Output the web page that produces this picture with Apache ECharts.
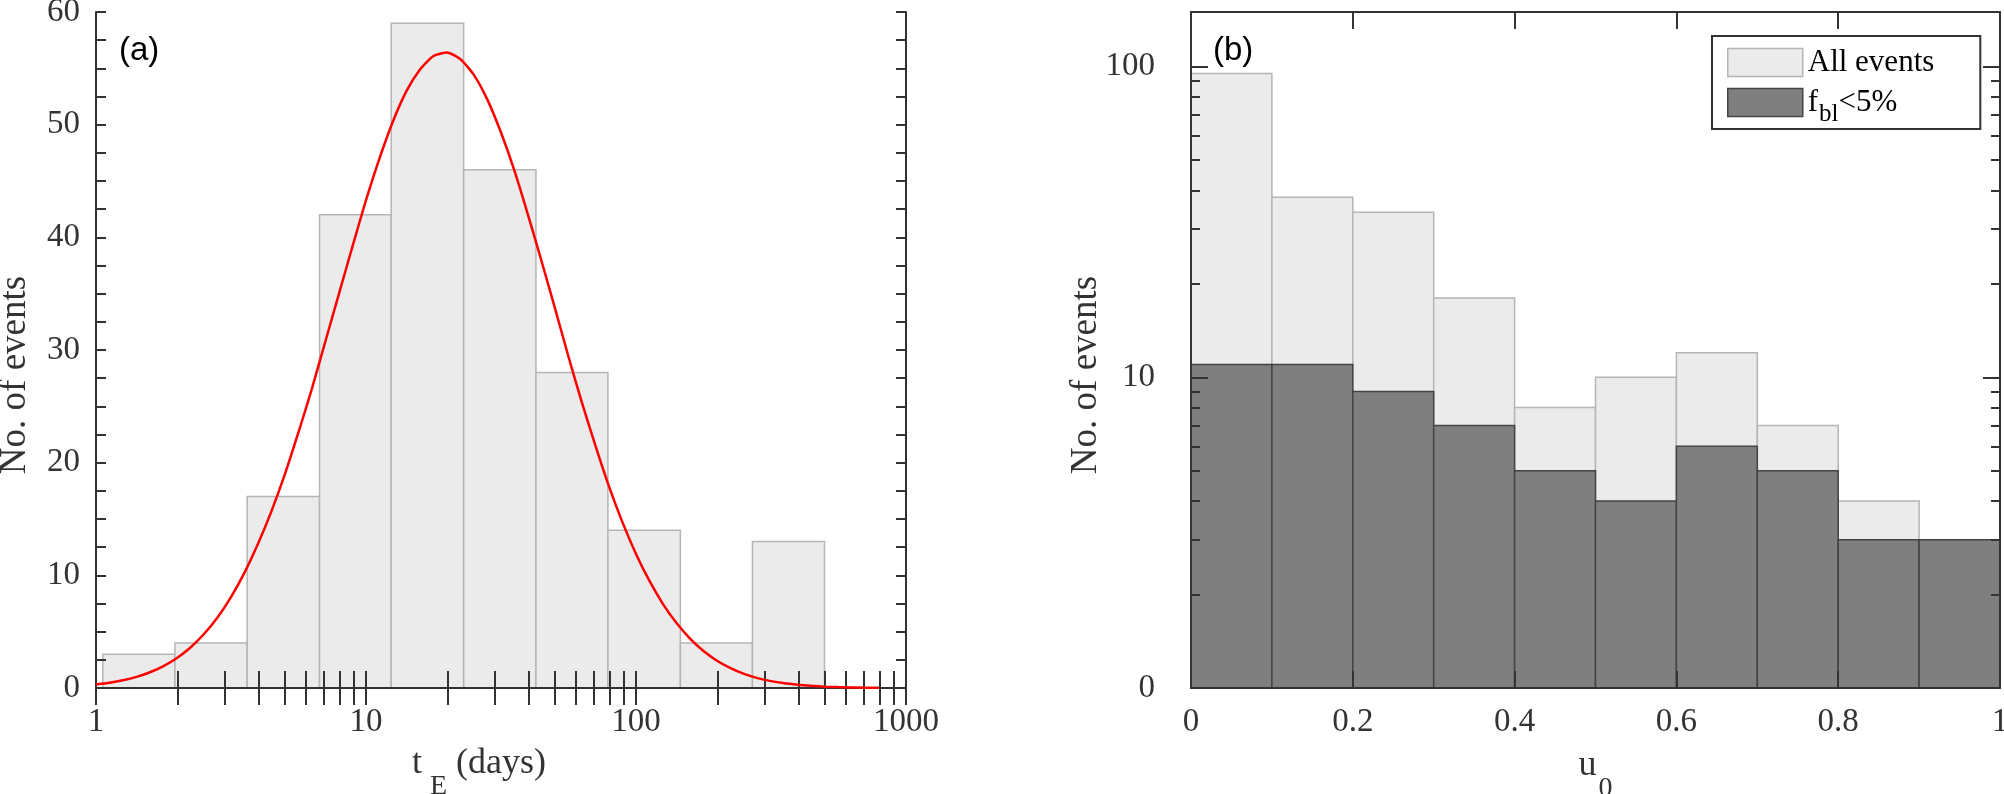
<!DOCTYPE html>
<html><head><meta charset="utf-8">
<script src="https://cdn.jsdelivr.net/npm/echarts@6/dist/echarts.min.js"></script>
<style>html,body{margin:0;padding:0;background:#fff}#c{width:2004px;height:794px}</style>
</head><body><div id="c"></div>
<script>
// ---------- Panel (a): t_E histogram ----------
const binEdgesA = [1.06, 1.96, 3.63, 6.73, 12.4, 23.0, 42.6, 78.7, 146, 270, 499];
const countsA = [3, 4, 17, 42, 59, 46, 28, 14, 4, 13];
// red fitted curve (days, events)
const curveX = [1, 1.122, 1.259, 1.413, 1.585, 1.778, 1.995, 2.239, 2.512, 2.818, 3.162, 3.548, 3.981, 4.467, 5.012, 5.623, 6.310, 7.079, 7.943, 8.913,
  10, 11.22, 12.59, 14.13, 15.85, 17.78, 19.95, 22.39, 25.12, 28.18, 31.62, 35.48, 39.81, 44.67, 50.12, 56.23, 63.10, 70.79, 79.43, 89.13,
  100, 112.2, 125.9, 141.3, 158.5, 177.8, 199.5, 223.9, 251.2, 281.8, 316.2, 354.8, 398.1, 446.7, 501.2, 562.3, 631.0, 707.9, 794.3];
const curveY = [0.32, 0.47, 0.69, 0.99, 1.40, 1.95, 2.67, 3.60, 4.79, 6.26, 8.07, 10.24, 12.8, 15.7, 19.0, 22.7, 26.6, 30.8, 35.0, 39.2,
  43.3, 47.0, 50.3, 53.0, 54.9, 56.1, 56.4, 55.8, 54.4, 52.2, 49.3, 45.9, 42.0, 37.9, 33.7, 29.4, 25.3, 21.5, 17.9, 14.7,
  11.9, 9.50, 7.45, 5.76, 4.38, 3.28, 2.42, 1.76, 1.25, 0.88, 0.61, 0.42, 0.28, 0.19, 0.12, 0.08, 0.05, 0.03, 0.02];
const xTicksA = [1, 2, 3, 4, 5, 6, 7, 8, 9, 10, 20, 30, 40, 50, 60, 70, 80, 90, 100, 200, 300, 400, 500, 600, 700, 800, 900, 1000];
const xLabelsA = [1, 10, 100, 1000];

// ---------- Panel (b): u_0 histogram ----------
const binEdgesB = [0, 0.1, 0.2, 0.3, 0.4, 0.5, 0.6, 0.7, 0.8, 0.9, 1.0];
const countsAll = [95, 38, 34, 18, 8, 10, 12, 7, 4, 3];
const countsLow = [11, 11, 9, 7, 5, 4, 6, 5, 3, 3];
const xLabelsB = [0, 0.2, 0.4, 0.6, 0.8, 1];
const yMajorB = [1, 10, 100];
const yMajorLabelsB = ['0', '10', '100'];
const yMinorB = [2, 3, 4, 5, 6, 7, 8, 9, 20, 30, 40, 50, 60, 70, 80, 90];

const AX = '#333';
const SERIF = 'Liberation Serif';
const TICK_FS = 33;

function binData(edges, counts) {
  return counts.map((c, i) => [edges[i], edges[i + 1], c]);
}
function histRender(base, fill, stroke) {
  return function (params, api) {
    const p0 = api.coord([api.value(0), api.value(2)]);
    const p1 = api.coord([api.value(1), base]);
    return {
      type: 'rect',
      shape: { x: p0[0], y: p0[1], width: p1[0] - p0[0], height: p1[1] - p0[1] },
      style: { fill: fill, stroke: stroke, lineWidth: 1.5 }
    };
  };
}
const lineStyle = { color: AX, width: 2 };
const labelStyle = { fontFamily: SERIF, fontSize: TICK_FS, color: AX };
const nameRich = {
  m: { fontFamily: SERIF, fontSize: 36, color: AX, lineHeight: 64 },
  s: { fontFamily: SERIF, fontSize: 28, color: AX, lineHeight: 64, padding: [46, 0, 0, 8] },
  s2: { fontFamily: SERIF, fontSize: 28, color: AX, lineHeight: 64, padding: [46, 0, 0, 2] }
};
const yNameStyle = { fontFamily: SERIF, fontSize: 37, color: AX, padding: [0, 50, 0, 0] };

const chart = echarts.init(document.getElementById('c'), null, { renderer: 'canvas' });
chart.setOption({
  animation: false,
  backgroundColor: '#fff',
  title: [
    { text: '(a)', left: 114, top: 29, textStyle: { fontFamily: 'Liberation Sans', fontSize: 33, fontWeight: 'normal', color: '#000' } },
    { text: '(b)', left: 1208, top: 29, textStyle: { fontFamily: 'Liberation Sans', fontSize: 33, fontWeight: 'normal', color: '#000' } }
  ],
  grid: [
    { left: 96, top: 12, width: 810, height: 676, outerBoundsMode: 'none', containLabel: false },
    { left: 1191, top: 12, width: 809, height: 676, outerBoundsMode: 'none', containLabel: false }
  ],
  legend: {
    left: 1712, top: 36, orient: 'vertical',
    padding: [11, 46, 2, 15],
    itemWidth: 75, itemHeight: 28, itemGap: 0,
    borderColor: AX, borderWidth: 2, backgroundColor: '#fff',
    data: [
      { name: 'All events', icon: 'rect', itemStyle: { color: '#ebebeb', borderColor: '#b5b5b5', borderWidth: 1.5 } },
      { name: 'f_bl<5%', icon: 'rect', itemStyle: { color: '#7f7f7f', borderColor: '#444', borderWidth: 1.5 } }
    ],
    formatter: function (n) { return n === 'f_bl<5%' ? '{n|f}{s|bl}{n|<5%}' : '{n|All events}'; },
    textStyle: {
      color: '#000', height: 28,
      rich: {
        n: { fontFamily: SERIF, fontSize: 31, color: '#000', lineHeight: 28 },
        s: { fontFamily: SERIF, fontSize: 25, color: '#000', lineHeight: 28, padding: [24, 0, 0, 1] }
      }
    }
  },
  xAxis: [
    {
      type: 'log', logBase: 10, gridIndex: 0, min: 1, max: 1000, position: 'bottom', z: 5,
      axisLine: { lineStyle: lineStyle },
      axisTick: { inside: true, length: 17, customValues: xTicksA, lineStyle: lineStyle },
      axisLabel: Object.assign({ customValues: xLabelsA, margin: 18, formatter: v => String(v) }, labelStyle),
      splitLine: { show: false },
      name: '{m|t}{s|E}{m| (days)}', nameLocation: 'middle', nameGap: 44, nameMoveOverlap: false,
      nameTextStyle: { rich: nameRich, padding: [0, 44, 0, 0] }
    },
    {
      type: 'log', logBase: 10, gridIndex: 0, min: 1, max: 1000, position: 'top', z: 5,
      axisLine: { lineStyle: lineStyle },
      axisTick: { inside: true, length: 17, customValues: xTicksA, lineStyle: lineStyle },
      axisLabel: { show: false }, splitLine: { show: false }
    },
    {
      type: 'value', gridIndex: 1, min: 0, max: 1, interval: 0.2, position: 'bottom', z: 5,
      axisLine: { lineStyle: lineStyle },
      axisTick: { inside: true, length: 17, customValues: xLabelsB, lineStyle: lineStyle },
      axisLabel: Object.assign({ customValues: xLabelsB, margin: 18, formatter: v => String(v) }, labelStyle),
      splitLine: { show: false },
      name: '{m|u}{s2|0}', nameLocation: 'middle', nameGap: 46, nameMoveOverlap: false,
      nameTextStyle: { rich: nameRich }
    },
    {
      type: 'value', gridIndex: 1, min: 0, max: 1, interval: 0.2, position: 'top', z: 5,
      axisLine: { lineStyle: lineStyle },
      axisTick: { inside: true, length: 17, customValues: xLabelsB, lineStyle: lineStyle },
      axisLabel: { show: false }, splitLine: { show: false }
    }
  ],
  yAxis: [
    {
      type: 'value', gridIndex: 0, min: 0, max: 60, interval: 10, position: 'left', z: 5,
      axisLine: { show: true, lineStyle: lineStyle },
      axisTick: { show: true, inside: true, length: 10, lineStyle: lineStyle },
      minorTick: { show: true, splitNumber: 4, length: 10, lineStyle: lineStyle },
      axisLabel: Object.assign({ margin: 16 }, labelStyle),
      splitLine: { show: false },
      name: 'No. of events', nameLocation: 'middle', nameGap: 62, nameMoveOverlap: false,
      nameTextStyle: yNameStyle
    },
    {
      type: 'value', gridIndex: 0, min: 0, max: 60, interval: 10, position: 'right', z: 5,
      axisLine: { show: true, lineStyle: lineStyle },
      axisTick: { show: true, inside: true, length: 10, lineStyle: lineStyle },
      minorTick: { show: true, splitNumber: 4, length: 10, lineStyle: lineStyle },
      axisLabel: { show: false }, splitLine: { show: false }
    },
    {
      type: 'log', logBase: 10, gridIndex: 1, min: 1, max: 150, position: 'left', z: 5,
      axisLine: { show: true, lineStyle: lineStyle },
      axisTick: { show: true, inside: true, length: 17, customValues: yMajorB, lineStyle: lineStyle },
      axisLabel: Object.assign({
        customValues: yMajorB, margin: 36,
        formatter: function (v) { const i = yMajorB.indexOf(v); return i >= 0 ? yMajorLabelsB[i] : ''; }
      }, labelStyle),
      splitLine: { show: false },
      name: 'No. of events', nameLocation: 'middle', nameGap: 86, nameMoveOverlap: false,
      nameTextStyle: yNameStyle
    },
    {
      type: 'log', logBase: 10, gridIndex: 1, min: 1, max: 150, position: 'left', z: 5,
      axisLine: { show: false },
      axisTick: { show: true, inside: true, length: 9, customValues: yMinorB, lineStyle: lineStyle },
      axisLabel: { show: false }, splitLine: { show: false }
    },
    {
      type: 'log', logBase: 10, gridIndex: 1, min: 1, max: 150, position: 'right', z: 5,
      axisLine: { show: true, lineStyle: lineStyle },
      axisTick: { show: true, inside: true, length: 17, customValues: yMajorB, lineStyle: lineStyle },
      axisLabel: { show: false }, splitLine: { show: false }
    },
    {
      type: 'log', logBase: 10, gridIndex: 1, min: 1, max: 150, position: 'right', z: 5,
      axisLine: { show: false },
      axisTick: { show: true, inside: true, length: 9, customValues: yMinorB, lineStyle: lineStyle },
      axisLabel: { show: false }, splitLine: { show: false }
    }
  ],
  series: [
    {
      name: 'tE histogram', type: 'custom', xAxisIndex: 0, yAxisIndex: 0, z: 2,
      renderItem: histRender(0, '#ebebeb', '#b5b5b5'),
      data: binData(binEdgesA, countsA), encode: { x: [0, 1], y: 2 }
    },
    {
      name: 'fit', type: 'line', xAxisIndex: 0, yAxisIndex: 0, z: 6,
      data: curveX.map((x, i) => [x, curveY[i]]),
      smooth: 0.2, showSymbol: false, symbol: 'none',
      lineStyle: { color: '#ff0000', width: 2.5 }
    },
    {
      name: 'All events', type: 'custom', xAxisIndex: 2, yAxisIndex: 2, z: 2,
      renderItem: histRender(1, '#ebebeb', '#b5b5b5'),
      data: binData(binEdgesB, countsAll), encode: { x: [0, 1], y: 2 },
      itemStyle: { color: '#ebebeb' }
    },
    {
      name: 'f_bl<5%', type: 'custom', xAxisIndex: 2, yAxisIndex: 2, z: 3,
      renderItem: histRender(1, '#7f7f7f', '#444'),
      data: binData(binEdgesB, countsLow), encode: { x: [0, 1], y: 2 },
      itemStyle: { color: '#7f7f7f' }
    }
  ]
});
</script>
</body></html>
